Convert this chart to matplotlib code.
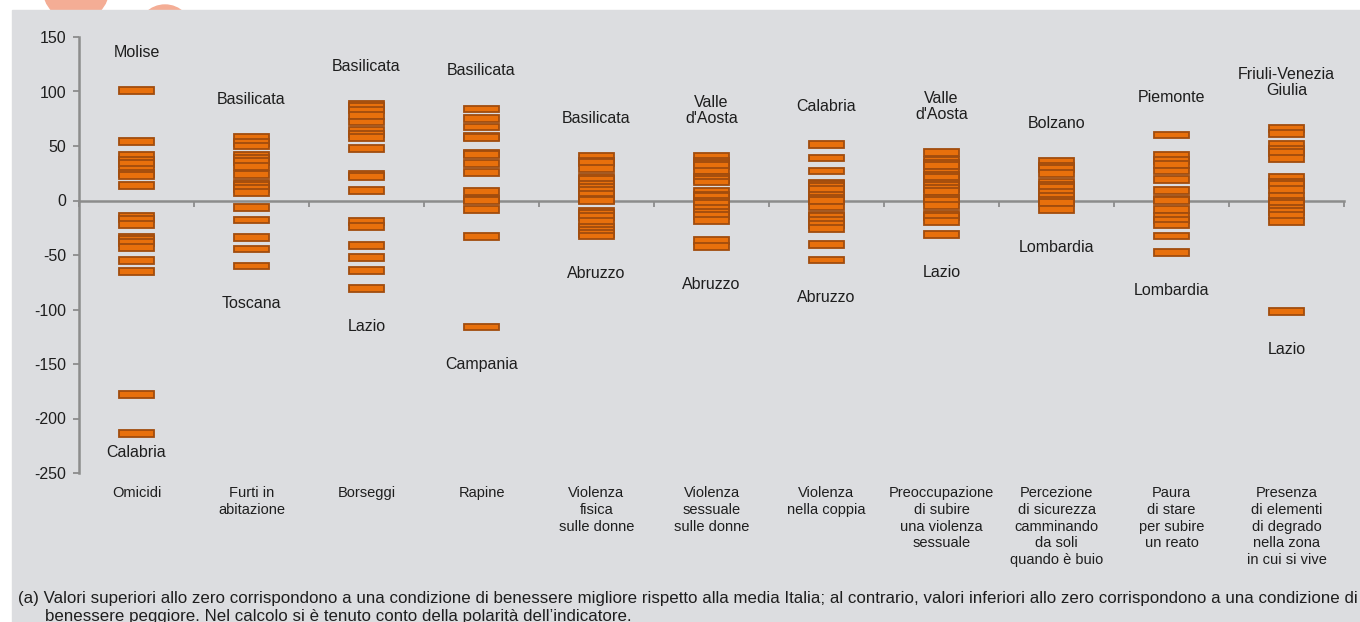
import numpy as np
import matplotlib
matplotlib.use("Agg")
import matplotlib.pyplot as plt
from matplotlib.patches import Rectangle, Circle

# Indicatori e scarti regionali dalla media Italia
categorie = ['Omicidi', 'Furti in\nabitazione', 'Borseggi', 'Rapine',
             'Violenza\nfisica\nsulle donne', 'Violenza\nsessuale\nsulle donne',
             'Violenza\nnella coppia',
             'Preoccupazione\ndi subire\nuna violenza\nsessuale',
             'Percezione\ndi sicurezza\ncamminando\nda soli\nquando è buio',
             'Paura\ndi stare\nper subire\nun reato',
             'Presenza\ndi elementi\ndi degrado\nnella zona\nin cui si vive']

omicidi = [101, 54, 41, 37, 34, 28.5, 25, 23, 14, -14.5, -17, -22, -34, -36,
           -38.5, -43, -55, -65, -178, -214]
furti = [58, 53, 50, 41, 38.5, 36, 31, 24, 16, 13.5, 11, 7, -6.5, -18, -34,
         -44.5, -60]
borseggi = [88, 86, 83, 78, 72, 64, 61, 58, 47.5, 24, 22, 9, -19.5, -24,
            -41.5, -52, -64.5, -80.5]
rapine = [84, 75, 67.5, 59, 58, 43, 42, 34, 25.5, 8.5, 1, 0, -8, -33, -116]
viol_fisica = [40.5, 36, 35, 29.5, 21, 19, 15, 12, 9, 6, 1, 0, -10, -12, -15,
               -19, -25, -27.5, -30, -32.5]
viol_sessuale = [40.5, 36, 34.5, 32, 27, 21, 19, 17, 8.5, 5, 4, -1, -3, -7,
                 -10.5, -14, -18.5, -36.5, -42]
viol_coppia = [51.5, 39, 27, 16, 15, 13, 10, 5, 2, 0, -6, -14, -15, -18, -22,
               -26, -40.5, -54.5]
preoccupazione = [44, 37, 34, 32, 26, 23, 21, 16, 14, 11, 8, 2, 0, -4.5,
                  -12.5, -15, -19.5, -31.5]
percezione = [35.5, 31, 29.5, 25, 16.5, 14, 12, 7, 4, 0, -2, -8.5]
paura = [60, 41, 37, 33, 27, 19.5, 9.5, 1, 0, -8, -15, -18, -22.5, -32.5, -48]
degrado = [66, 61.5, 51.5, 47, 44, 38.5, 21, 17, 15, 10, 4, -1, -3, -7, -10,
           -13.5, -19.5, -102]

serie = [omicidi, furti, borseggi, rapine, viol_fisica, viol_sessuale,
         viol_coppia, preoccupazione, percezione, paura, degrado]

regione_max = ['Molise', 'Basilicata', 'Basilicata', 'Basilicata', 'Basilicata',
               "Valle\nd'Aosta", 'Calabria', "Valle\nd'Aosta", 'Bolzano',
               'Piemonte', 'Friuli-Venezia\nGiulia']
regione_min = ['Calabria', 'Toscana', 'Lazio', 'Campania', 'Abruzzo', 'Abruzzo',
               'Abruzzo', 'Lazio', 'Lombardia', 'Lombardia', 'Lazio']

nota1 = ("(a) Valori superiori allo zero corrispondono a una condizione di benessere "
         "migliore rispetto alla media Italia; al contrario, valori inferiori allo zero "
         "corrispondono a una condizione di")
nota2 = "benessere peggiore. Nel calcolo si è tenuto conto della polarità dell’indicatore."

plt.rcParams['font.family'] = ['Liberation Sans', 'DejaVu Sans']
plt.rcParams['axes.unicode_minus'] = False

W, H = 1360, 622
fig = plt.figure(figsize=(W / 100, H / 100), dpi=100, facecolor='white')

# sfondo: cerchi decorativi e pannello grigio
fig.patches.append(Circle((0.76, 6.34), 0.33, transform=fig.dpi_scale_trans,
                          color='#f4ad95', zorder=-3))
fig.patches.append(Circle((1.65, 5.90), 0.27, transform=fig.dpi_scale_trans,
                          color='#f4ad95', zorder=-3))
fig.patches.append(Rectangle((12 / W, 0), 1, 1 - 10 / H, transform=fig.transFigure,
                             color='#dcdde0', zorder=-2))

ax = fig.add_axes([79 / W, 1 - 473 / H, (1344 - 79) / W, 436 / H])
ax.set_facecolor('none')

grigio = '#8c8c8c'
h = 6.2
for i, vals in enumerate(serie):
    v = np.array(vals, dtype=float)
    ax.bar(np.full(len(v), i + 0.5), h, bottom=v - h / 2, width=0.31,
           color='#e8700c', edgecolor='#a14c0e', linewidth=1.3, zorder=3)
    ax.text(i + 0.5, v.max() + 28, regione_max[i], ha='center', va='bottom',
            fontsize=11.5, color='#1e1e1e', linespacing=1.1)
    ax.text(i + 0.5, max(v.min() - 28, -224), regione_min[i], ha='center',
            va='top', fontsize=11.5, color='#1e1e1e', linespacing=1.1)
    ax.text(i + 0.5, -0.03, categorie[i], transform=ax.get_xaxis_transform(),
            ha='center', va='top', fontsize=10.5, color='#1e1e1e',
            linespacing=1.25)

ax.set_xlim(0, len(serie))
ax.set_ylim(-250, 150)
ax.set_yticks(np.arange(-250, 151, 50))
ax.set_xticks(np.arange(0, len(serie) + 1))
ax.set_xticklabels([])

for s in ['top', 'right']:
    ax.spines[s].set_visible(False)
ax.spines['bottom'].set_position(('data', 0))
ax.spines['bottom'].set_color(grigio)
ax.spines['bottom'].set_linewidth(1.8)
ax.spines['left'].set_color(grigio)
ax.spines['left'].set_linewidth(1.8)
ax.tick_params(axis='y', colors=grigio, length=4, width=1.3, pad=5,
               labelcolor='#1e1e1e', labelsize=11.5)
ax.tick_params(axis='x', colors=grigio, length=4, width=1.3, direction='out')

fig.text(18 / W, 1 - 598 / H, nota1, ha='left', va='center', fontsize=12.2,
         color='#1e1e1e')
fig.text(45 / W, 1 - 616 / H, nota2, ha='left', va='center', fontsize=12.2,
         color='#1e1e1e')

fig.savefig('out.png', dpi=100, facecolor=fig.get_facecolor())
